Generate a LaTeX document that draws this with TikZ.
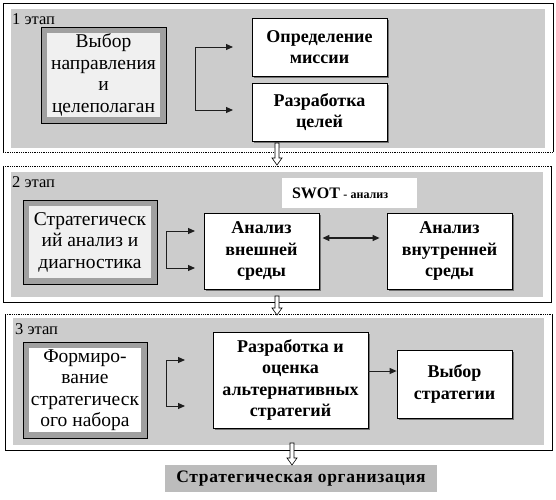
\documentclass[tikz,border=0pt]{standalone}
\usepackage{fontspec}
\setmainfont{Liberation Serif}
\usetikzlibrary{arrows.meta,shadows}
\definecolor{bg}{RGB}{204,204,204}
\definecolor{ring}{RGB}{160,160,160}
\definecolor{innerc}{RGB}{240,240,240}
\definecolor{ink}{RGB}{30,30,30}
\tikzset{
  stagebg/.style={fill=bg,draw=none},
  frame/.style={draw=black,line width=0.8pt},
  sep/.style={draw=black,line width=0.8pt,densely dotted},
  sz/.style 2 args={minimum width=#1pt,minimum height=#2pt},
  dblbox/.style={draw=black,line width=0.9pt,fill=ring,inner sep=0pt,align=center,
    font=\fontsize{19.5}{21.5}\selectfont,
    path picture={\fill[#1] ([shift={(6pt,6pt)}]path picture bounding box.south west)
      rectangle ([shift={(-6pt,-6pt)}]path picture bounding box.north east);}},
  wbox/.style={draw=black,line width=0.8pt,fill=white,inner sep=0pt,align=center,
    font=\bfseries\fontsize{18}{21.5}\selectfont,
    drop shadow={shadow xshift=1.8pt,shadow yshift=-1.8pt,fill=black!55,opacity=1}},
  lbl/.style={anchor=west,inner sep=0pt,font=\fontsize{16.5}{18}\selectfont},
  arr/.style={draw=ink,line width=1pt,-{Triangle[length=7pt,width=6pt]}},
  darr/.style={draw=ink,line width=1.2pt,{Triangle[length=7pt,width=6pt]}-{Triangle[length=7pt,width=6pt]}},
  brk/.style={draw=ink,line width=1pt},
  hollow/.style={draw=black,line width=0.6pt,fill=white}
}
\newcommand\hollowdown[3]{%
  \draw[hollow] ({#1-2},#2) -- ({#1-2},{#3-7}) -- ({#1-5},{#3-7}) -- (#1,#3)
    -- ({#1+5},{#3-7}) -- ({#1+2},{#3-7}) -- ({#1+2},#2) -- cycle;}
\begin{document}
\begin{tikzpicture}[x=1pt,y=-1pt]
\useasboundingbox (0,0) rectangle (556,499);
% ---------- stage 1 ----------
\fill[stagebg] (11,9) rectangle (545,148);
\draw[frame] (3,152) -- (3,3) -- (553,3) -- (553,152);
\draw[sep] (3,152) -- (553,152);
\node[lbl] (l1) at (12,19) {1 этап};
\node[dblbox=innerc,sz={125}{96}] (A1) at (103.5,75) {Выбор\\направления\\и\\целеполаган};
\node[wbox,sz={135}{58}] (B1) at (319.5,47) {Определение\\миссии};
\node[wbox,sz={135}{58}] (C1) at (319.5,112) {Разработка\\целей};
\coordinate (f1a) at (195,47);
\coordinate (f1b) at (195,110);
\coordinate (t1a) at (233,47);
\coordinate (t1b) at (233,110);
\draw[brk] (f1a) -- (f1b);
\draw[arr] (f1a) -- (t1a);
\draw[arr] (f1b) -- (t1b);
% ---------- stage 2 ----------
\fill[stagebg] (11,172) rectangle (543,297);
\draw[frame] (3,166) -- (3,302) -- (551,302) -- (551,166);
\draw[sep] (3,166) -- (551,166);
\node[lbl] (l2) at (12,182) {2 этап};
\node[dblbox=innerc,sz={134}{84}] (A2) at (90,242) {Стратегическ\\ий анализ и\\диагностика};
\node[wbox,sz={115}{76}] (B2) at (261.5,251) {Анализ\\внешней\\среды};
\node[wbox,sz={125}{76}] (C2) at (449.5,251) {Анализ\\внутренней\\среды};
\node[fill=white,inner xsep=10pt,inner ysep=0pt,text width=115pt,align=left,minimum height=30pt] (swot) at (349.5,193)
  {\bfseries\fontsize{16}{18}\selectfont SWOT \fontsize{12}{14}\selectfont - анализ};
\draw[darr] ([xshift=3pt,yshift=13pt]B2.east) -- ([xshift=-7pt,yshift=13pt]C2.west);
\coordinate (f2a) at (166,231);
\coordinate (f2b) at (166,268);
\coordinate (t2a) at (195,231);
\coordinate (t2b) at (195,268);
\draw[brk] (f2a) -- (f2b);
\draw[arr] (f2a) -- (t2a);
\draw[arr] (f2b) -- (t2b);
% ---------- stage 3 ----------
\fill[stagebg] (13,318) rectangle (544,445);
\draw[frame] (5,314) -- (5,450) -- (552,450) -- (552,314);
\draw[sep] (5,314) -- (552,314);
\node[lbl] (l3) at (15,329) {3 этап};
\node[dblbox=white,sz={124}{96}] (A3) at (85,390) {Формиро-\\вание\\стратегическ\\ого набора};
\node[wbox,sz={155}{96}] (B3) at (290.5,380) {Разработка и\\оценка\\альтернативных\\стратегий};
\node[wbox,sz={115}{68}] (C3) at (454.5,384) {Выбор\\стратегии};
\draw[arr] ([yshift=9pt]B3.east) -- ([yshift=9pt]B3.east -| C3.west);
\coordinate (f3a) at (166,360);
\coordinate (f3b) at (166,406);
\coordinate (t3a) at (185,360);
\coordinate (t3b) at (185,406);
\draw[brk] (f3a) -- (f3b);
\draw[arr] (f3a) -- (t3a);
\draw[arr] (f3b) -- (t3b);
% ---------- bottom ----------
\node[fill=bg!92!black,inner sep=0pt,sz={272}{27},font=\bfseries\fontsize{17.5}{20}\selectfont] (res) at (301,478.5)
  {\addfontfeature{LetterSpace=4}Стратегическая организация};
% ---------- stage arrows ----------
\hollowdown{277}{143}{165}
\hollowdown{277}{296}{315}
\hollowdown{292}{443}{465}
\end{tikzpicture}
\end{document}
